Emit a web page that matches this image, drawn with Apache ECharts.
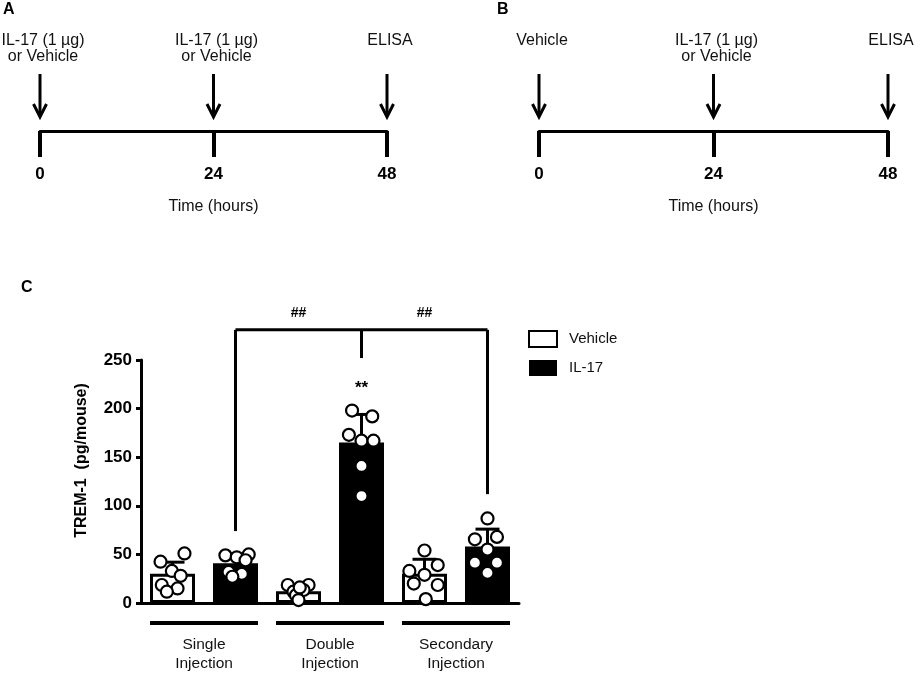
<!DOCTYPE html>
<html><head><meta charset="utf-8">
<script src="https://cdn.jsdelivr.net/npm/echarts@6/dist/echarts.min.js"></script>
<style>html,body{margin:0;padding:0;background:#fff}#c{width:922px;height:673px}</style>
</head><body><div id="c"></div>
<script>
// ---- data ----
const timelineHours = [0, 24, 48];
const panelAEvents = ['IL-17 (1 µg)\nor Vehicle', 'IL-17 (1 µg)\nor Vehicle', 'ELISA'];
const panelBEvents = ['Vehicle', 'IL-17 (1 µg)\nor Vehicle', 'ELISA'];
const timeAxisName = 'Time (hours)';
const groups = ['Single\nInjection', 'Double\nInjection', 'Secondary\nInjection'];
const seriesNames = ['Vehicle', 'IL-17'];
const vehicleMeans = [30, 12, 30];
const il17Means = [41, 165, 58];
const vehicleSD = [12, 5, 15];
const il17SD = [9, 29, 18];
const vehiclePoints = [
  [42.5, 51, 33, 28, 18.5, 15, 11.6],
  [18.5, 18.5, 11.6, 13.4, 8, 3, 16],
  [54, 33, 39, 29, 20, 18.5, 4]
];
const il17Points = [
  [49, 47, 50, 44, 32, 30, 27],
  [198, 192, 173, 167, 167, 141, 110],
  [87, 65.5, 68, 55, 41.5, 41.5, 31]
];
const yTicks = [0, 50, 100, 150, 200, 250];
const yAxisName = 'TREM-1  (pg/mouse)';
const bracketTop = 281;
const bracketEnds = [74, 252, 112];   // lower ends over IL-17 single / double / secondary
const hashLabelY = 298;
const starLabelY = 221;
const hashLabel = '##';
const starLabel = '**';

// ---- styling (jitter of the dots within a bar, in band units) ----
const vehicleJitter = [
  [-0.19, 0.19, -0.01, 0.13, -0.17, 0.08, -0.09],
  [-0.17, 0.16, -0.08, 0.08, -0.04, 0.0, 0.02],
  [0.0, -0.24, 0.21, 0.0, -0.17, 0.21, 0.02]
];
const il17Jitter = [
  [-0.16, 0.02, 0.21, 0.16, -0.11, 0.1, -0.05],
  [-0.15, 0.17, -0.2, 0.0, 0.19, 0.0, 0.0],
  [0.0, -0.2, 0.15, 0.0, -0.2, 0.15, 0.0]
];

const FONT = 'Liberation Sans, Arial, Helvetica, sans-serif';
const BLACK = '#000';

const vehicleBar = [], il17Bar = [];
groups.forEach((g, i) => {
  vehicleBar.push(vehicleMeans[i], '-');
  il17Bar.push('-', il17Means[i]);
});
const slotCats = [];
groups.forEach((g, i) => seriesNames.forEach(s => slotCats.push(g + ' ' + s)));

const scatterData = [];
groups.forEach((g, i) => {
  vehiclePoints[i].forEach((v, k) => scatterData.push([2 * i + vehicleJitter[i][k], v]));
  il17Points[i].forEach((v, k) => scatterData.push([2 * i + 1 + il17Jitter[i][k], v]));
});
const errData = [];
groups.forEach((g, i) => {
  errData.push([2 * i, vehicleMeans[i], vehicleSD[i]]);
  errData.push([2 * i + 1, il17Means[i], il17SD[i]]);
});
const il17Slots = groups.map((g, i) => 2 * i + 1);

function timelineSeries(events, xi, yi) {
  return {
    type: 'custom', xAxisIndex: xi, yAxisIndex: yi, clip: false, silent: true,
    data: timelineHours.map((h, i) => [h, i]),
    renderItem: function (params, api) {
      const p = api.coord([api.value(0), 0]);
      const x = p[0], b = p[1];
      return {
        type: 'group', children: [
          { type: 'line', shape: { x1: x, y1: b - 57, x2: x, y2: b - 15 }, style: { stroke: BLACK, lineWidth: 3 } },
          { type: 'polyline', shape: { points: [[x - 6.5, b - 27], [x, b - 14], [x + 6.5, b - 27]] }, style: { stroke: BLACK, lineWidth: 3, fill: null } },
          { type: 'text', style: { x: x + 3, y: b - 98, text: events[api.value(1)], textAlign: 'center', textVerticalAlign: 'top', font: '16px ' + FONT, lineHeight: 16, fill: '#111' } }
        ]
      };
    }
  };
}

function timeAxis(gi) {
  return {
    type: 'value', gridIndex: gi, min: 0, max: 48, interval: 24,
    axisLine: { onZero: false, lineStyle: { color: BLACK, width: 3 } },
    axisTick: { length: 26, lineStyle: { color: BLACK, width: 4 } },
    splitLine: { show: false },
    axisLabel: { margin: 35, color: BLACK, fontWeight: 'bold', fontSize: 17, fontFamily: FONT },
    name: timeAxisName, nameLocation: 'middle', nameGap: 68,
    nameTextStyle: { color: '#111', fontSize: 16, fontFamily: FONT }
  };
}

const chart = echarts.init(document.getElementById('c'), null, { renderer: 'canvas' });
chart.setOption({
  animation: false,
  backgroundColor: '#fff',
  textStyle: { fontFamily: FONT },
  title: [
    { text: 'A', left: 3, top: 2, padding: 0, textStyle: { fontSize: 16, fontWeight: 'bold', color: BLACK, fontFamily: FONT } },
    { text: 'B', left: 497, top: 2, padding: 0, textStyle: { fontSize: 16, fontWeight: 'bold', color: BLACK, fontFamily: FONT } },
    { text: 'C', left: 21, top: 280, padding: 0, textStyle: { fontSize: 16, fontWeight: 'bold', color: BLACK, fontFamily: FONT } }
  ],
  legend: {
    orient: 'vertical', left: 523, top: 325, itemWidth: 28, itemHeight: 16, itemGap: 12,
    icon: 'rect', data: seriesNames,
    textStyle: { fontSize: 15, color: '#111', fontFamily: FONT, padding: [0, 0, 0, 7] }
  },
  grid: [
    { left: 141, top: 360, width: 378, height: 243 },
    { left: 40, top: 30, width: 347, height: 101 },
    { left: 539, top: 30, width: 349, height: 101 }
  ],
  xAxis: [
    { type: 'category', gridIndex: 0, data: slotCats,
      axisLine: { onZero: false, lineStyle: { color: BLACK, width: 3 } }, axisTick: { show: false }, axisLabel: { show: false } },
    { type: 'value', gridIndex: 0, min: -0.5, max: 5.5, show: false, position: 'top', axisLine: { onZero: false } },
    { type: 'category', gridIndex: 0, data: groups, position: 'bottom',
      axisLine: { show: false, onZero: false }, axisTick: { show: false },
      axisLabel: {
        interval: 0, margin: 18, color: '#111',
        formatter: v => '{u|}\n{g| }\n' + v.split('\n').map(s => '{t|' + s + '}').join('\n'),
        rich: {
          u: { width: 108, height: 4, lineHeight: 4, backgroundColor: BLACK },
          g: { fontSize: 8, lineHeight: 10, height: 10 },
          t: { fontSize: 15.5, lineHeight: 19, color: '#111', fontFamily: FONT, align: 'center' }
        }
      } },
    timeAxis(1),
    timeAxis(2)
  ],
  yAxis: [
    { type: 'value', gridIndex: 0, min: yTicks[0], max: yTicks[yTicks.length - 1], interval: yTicks[1] - yTicks[0],
      axisLine: { show: true, onZero: false, lineStyle: { color: BLACK, width: 3 } },
      axisTick: { show: true, length: 5, lineStyle: { color: BLACK, width: 3 } },
      splitLine: { show: false },
      axisLabel: { margin: 9, color: BLACK, fontWeight: 'bold', fontSize: 17, fontFamily: FONT },
      name: yAxisName, nameLocation: 'middle', nameGap: 51, nameRotate: 90,
      nameTextStyle: { color: BLACK, fontWeight: 'bold', fontSize: 16, fontFamily: FONT, padding: [0, 0, 0, 42] } },
    { type: 'value', gridIndex: 1, min: 0, max: 1, show: false },
    { type: 'value', gridIndex: 2, min: 0, max: 1, show: false }
  ],
  series: [
    { name: seriesNames[0], type: 'bar', xAxisIndex: 0, yAxisIndex: 0, data: vehicleBar, barWidth: 45, barGap: '-100%', z: 2,
      itemStyle: { color: '#fff', borderColor: BLACK, borderWidth: 3 } },
    { name: seriesNames[1], type: 'bar', xAxisIndex: 0, yAxisIndex: 0, data: il17Bar, barWidth: 45, barGap: '-100%', z: 2,
      itemStyle: { color: BLACK, borderColor: BLACK, borderWidth: 0 } },
    { type: 'custom', xAxisIndex: 1, yAxisIndex: 0, z: 3, silent: true, data: errData,
      renderItem: function (params, api) {
        const x = api.value(0), m = api.value(1), sd = api.value(2);
        const b = api.coord([x, m]), t = api.coord([x, m + sd]);
        return { type: 'group', children: [
          { type: 'line', shape: { x1: b[0], y1: b[1], x2: t[0], y2: t[1] }, style: { stroke: BLACK, lineWidth: 3 } },
          { type: 'line', shape: { x1: t[0] - 12, y1: t[1], x2: t[0] + 12, y2: t[1] }, style: { stroke: BLACK, lineWidth: 3 } }
        ] };
      } },
    { type: 'scatter', xAxisIndex: 1, yAxisIndex: 0, z: 4, silent: true, data: scatterData,
      symbol: 'circle', symbolSize: 12,
      itemStyle: { color: '#fff', borderColor: BLACK, borderWidth: 2.2, opacity: 1 } },
    { type: 'custom', xAxisIndex: 1, yAxisIndex: 0, z: 3, clip: false, silent: true, data: [[0]],
      renderItem: function (params, api) {
        const tops = il17Slots.map(s => api.coord([s, bracketTop]));
        const bots = il17Slots.map((s, i) => api.coord([s, bracketEnds[i]]));
        const ch = [
          { type: 'line', shape: { x1: tops[0][0], y1: tops[0][1], x2: tops[2][0], y2: tops[2][1] }, style: { stroke: BLACK, lineWidth: 3 } }
        ];
        tops.forEach((tp, i) => ch.push({ type: 'line', shape: { x1: tp[0], y1: tp[1], x2: bots[i][0], y2: bots[i][1] }, style: { stroke: BLACK, lineWidth: 3 } }));
        [0, 1].forEach(i => {
          const c = api.coord([(il17Slots[i] + il17Slots[i + 1]) / 2, hashLabelY]);
          ch.push({ type: 'text', style: { x: c[0], y: c[1], text: hashLabel, textAlign: 'center', textVerticalAlign: 'middle', font: 'bold 14px ' + FONT, fill: BLACK } });
        });
        const s = api.coord([il17Slots[1], starLabelY]);
        ch.push({ type: 'text', style: { x: s[0], y: s[1], text: starLabel, textAlign: 'center', textVerticalAlign: 'middle', font: 'bold 17px ' + FONT, fill: BLACK } });
        return { type: 'group', children: ch };
      } },
    timelineSeries(panelAEvents, 3, 1),
    timelineSeries(panelBEvents, 4, 2)
  ]
});
</script></body></html>
